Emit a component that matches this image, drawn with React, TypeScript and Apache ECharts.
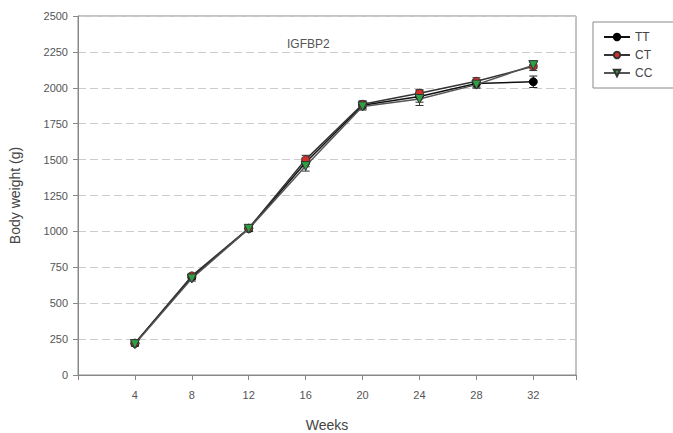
import React, { useEffect, useRef } from "react";
import * as echarts from "echarts";

const weeks = [4, 8, 12, 16, 20, 24, 28, 32];
const ttValues = [220, 682, 1020, 1480, 1878, 1940, 2030, 2042];
const ctValues = [222, 690, 1022, 1500, 1885, 1962, 2045, 2150];
const ccValues = [215, 672, 1018, 1455, 1870, 1922, 2022, 2158];
const ttErr = [15, 18, 20, 30, 25, 40, 25, 40];
const ctErr = [15, 18, 20, 30, 25, 25, 25, 30];
const ccErr = [15, 18, 20, 35, 25, 45, 25, 25];
const yTicks = [0, 250, 500, 750, 1000, 1250, 1500, 1750, 2000, 2250, 2500];

function errData(vals: number[], errs: number[]) {
  return weeks.map((w, i) => [w, vals[i] - errs[i], vals[i] + errs[i]]);
}

function errSeries(name: string, vals: number[], errs: number[], color: string) {
  return {
    type: "custom",
    name: name + "_err",
    z: 1,
    silent: true,
    data: errData(vals, errs),
    renderItem: (params: any, api: any) => {
      const x = api.value(0);
      const lo = api.coord([x, api.value(1)]);
      const hi = api.coord([x, api.value(2)]);
      const hw = 4;
      const style = { stroke: color, lineWidth: 1 };
      return {
        type: "group",
        children: [
          { type: "line", shape: { x1: lo[0], y1: lo[1], x2: hi[0], y2: hi[1] }, style },
          { type: "line", shape: { x1: lo[0] - hw, y1: lo[1], x2: lo[0] + hw, y2: lo[1] }, style },
          { type: "line", shape: { x1: hi[0] - hw, y1: hi[1], x2: hi[0] + hw, y2: hi[1] }, style },
        ],
      };
    },
  };
}

export default function App() {
  const ref = useRef<HTMLDivElement>(null);
  useEffect(() => {
    if (!ref.current) return;
    const chart = echarts.init(ref.current, null, { renderer: "svg" });
    const font = "Liberation Sans, Arial, sans-serif";
    const mk = (vals: number[]) => weeks.map((w, i) => [w, vals[i]]);
    chart.setOption({
      animation: false,
      backgroundColor: "#fff",
      textStyle: { fontFamily: font },
      title: {
        text: "IGFBP2",
        left: 282,
        top: 33,
        textStyle: { fontSize: 12, fontWeight: "normal", color: "#555", fontFamily: font },
      },
      legend: {
        orient: "vertical",
        left: 593,
        top: 22,
        width: 79,
        padding: [9, 22, 9, 10],
        itemGap: 6,
        itemWidth: 26,
        itemHeight: 8,
        borderColor: "#888",
        borderWidth: 1,
        data: ["TT", "CT", "CC"],
        textStyle: { fontSize: 12, color: "#444", fontFamily: font },
      },
      grid: {
        left: 78,
        top: 16,
        right: 97,
        bottom: 58,
        show: true,
        borderColor: "#888",
        borderWidth: 1,
        containLabel: false,
        outerBoundsMode: "none",
      },
      xAxis: {
        type: "value",
        min: 0,
        max: 35,
        interval: 4,
        name: "Weeks",
        nameLocation: "middle",
        nameGap: 43,
        nameTextStyle: { fontSize: 14, color: "#444", fontFamily: font },
        axisLine: { lineStyle: { color: "#888" } },
        axisTick: { show: true, length: 5, lineStyle: { color: "#888" } },
        axisLabel: {
          fontSize: 11,
          color: "#555",
          margin: 14,
          formatter: (v: number) => (weeks.includes(v) ? String(v) : ""),
        },
        splitLine: { show: false },
      },
      yAxis: {
        type: "value",
        min: 0,
        max: 2500,
        interval: 250,
        name: "Body weight (g)",
        nameLocation: "middle",
        nameGap: 56,
        nameTextStyle: { fontSize: 14, color: "#444", fontFamily: font },
        axisLine: { show: true, lineStyle: { color: "#888" } },
        axisTick: { show: true, length: 5, lineStyle: { color: "#888" } },
        axisLabel: {
          fontSize: 11,
          color: "#555",
          margin: 10,
          formatter: (v: number) => (yTicks.includes(v) ? String(v) : ""),
        },
        splitLine: { show: true, lineStyle: { color: "#ccc", type: [8, 4] } },
      },
      series: [
        errSeries("TT", ttValues, ttErr, "#222"),
        errSeries("CT", ctValues, ctErr, "#333"),
        errSeries("CC", ccValues, ccErr, "#333"),
        {
          name: "TT",
          type: "line",
          data: mk(ttValues),
          symbol: "circle",
          symbolSize: 8,
          z: 3,
          lineStyle: { color: "#111", width: 1.5 },
          itemStyle: { color: "#000", borderColor: "#000", borderWidth: 1 },
        },
        {
          name: "CT",
          type: "line",
          data: mk(ctValues),
          symbol: "circle",
          symbolSize: 8,
          z: 4,
          lineStyle: { color: "#333", width: 1.5 },
          itemStyle: { color: "#d4302a", borderColor: "#333", borderWidth: 1 },
        },
        {
          name: "CC",
          type: "line",
          data: mk(ccValues),
          symbol: "triangle",
          symbolRotate: 180,
          symbolSize: 9,
          z: 5,
          lineStyle: { color: "#555", width: 1.5 },
          itemStyle: { color: "#2ea043", borderColor: "#333", borderWidth: 1 },
        },
      ],
    });
    return () => chart.dispose();
  }, []);
  return <div ref={ref} style={{ width: 673, height: 433, position: "absolute", left: 0, top: 0 }} />;
}
